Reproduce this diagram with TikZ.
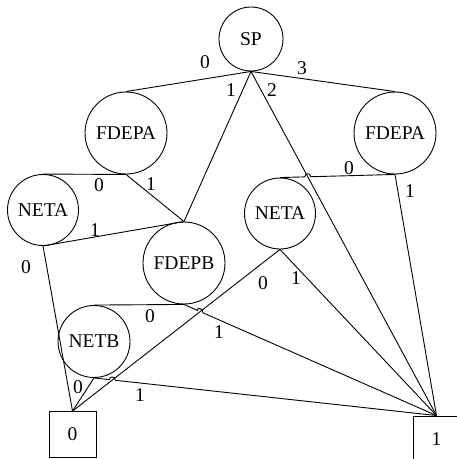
\documentclass[tikz,border=0pt]{standalone}
\usepackage{fontspec}
\setmainfont{Liberation Serif}
\usetikzlibrary{calc,intersections}
\begin{document}
\begin{tikzpicture}[x=1pt,y=-1pt,line width=0.9pt,
  every node/.style={font=\fontsize{19.5}{23}\selectfont},
  gate/.style={draw,circle,inner sep=0pt,minimum size=#1},
  leaf/.style={draw,rectangle,inner sep=0pt,minimum width=47pt,minimum height=46pt},
  lbl/.style={inner sep=0pt}]
\useasboundingbox (0,0) rectangle (457,459);
% nodes
\node[gate=64pt] (sp) at (251,39) {SP};
\node[gate=82pt] (fa1) at (126,133) {FDEPA};
\node[gate=82pt] (fa2) at (395,133) {FDEPA};
\node[gate=71pt] (na1) at (43,210) {NETA};
\node[gate=71pt] (na2) at (280,213.5) {NETA};
\node[gate=82pt] (fb) at (184,263) {FDEPB};
\node[gate=72pt] (nb) at (94,341.5) {NETB};
\node[leaf] (z) at (72.5,434.5) {0};
\node[leaf] (o) at (436.5,439) {1};
% plain edges
\draw (sp.south) -- (fa1.north);
\draw (sp.south) -- (fb.north);
\draw (sp.south) -- (fa2.north);
\draw (fa1.south) -- (na1.north);
\draw (fa1.south) -- (fb.north);
\draw (fa2.south) -- (o.north);
\draw (na1.south) -- (z.north);
\draw (na1.south) -- (fb.north);
\draw (fb.south) -- (nb.north);
\draw (na2.south) -- (o.north);
\draw (nb.south) -- (z.north);
% crossing lines (drawn straight)
\draw[name path=sp2] (sp.south) -- (o.north);
\draw[name path=na2z] (na2.south) -- (z.north);
% hidden paths of bumped lines
\path[name path=fa2na] (fa2.south) -- (na2.north);
\path[name path=fbo] (fb.south) -- (o.north);
\path[name path=nbo] (nb.south) -- (o.north);
\path[name intersections={of=sp2 and fa2na,by=x1}];
\path[name intersections={of=na2z and fbo,by=x2}];
\path[name intersections={of=na2z and nbo,by=x3}];
% bumped lines
\draw (fa2.south) -- ($(x1)!3pt!(fa2.south)$) .. controls +(0,-4) and +(0,-4) .. ($(x1)!3pt!(na2.north)$) -- (na2.north);
\draw (fb.south) -- ($(x2)!3pt!(fb.south)$) .. controls +(0,-4) and +(0,-4) .. ($(x2)!3pt!(o.north)$) -- (o.north);
\draw (nb.south) -- ($(x3)!3pt!(nb.south)$) .. controls +(0,-4) and +(0,-4) .. ($(x3)!3pt!(o.north)$) -- (o.north);
% edge labels
\node[lbl] (l1) at (205,62) {0};
\node[lbl] (l2) at (231,90) {1};
\node[lbl] (l3) at (272,90) {2};
\node[lbl] (l4) at (302,68) {3};
\node[lbl] (l5) at (99,185) {0};
\node[lbl] (l6) at (151,184) {1};
\node[lbl] (l7) at (349,168) {0};
\node[lbl] (l8) at (410,191) {1};
\node[lbl] (l9) at (95,230) {1};
\node[lbl] (l10) at (26,267) {0};
\node[lbl] (l11) at (263,283) {0};
\node[lbl] (l12) at (296,278) {1};
\node[lbl] (l13) at (150,316) {0};
\node[lbl] (l14) at (219,332) {1};
\node[lbl] (l15) at (78,387) {0};
\node[lbl] (l16) at (140,395) {1};
\end{tikzpicture}
\end{document}
